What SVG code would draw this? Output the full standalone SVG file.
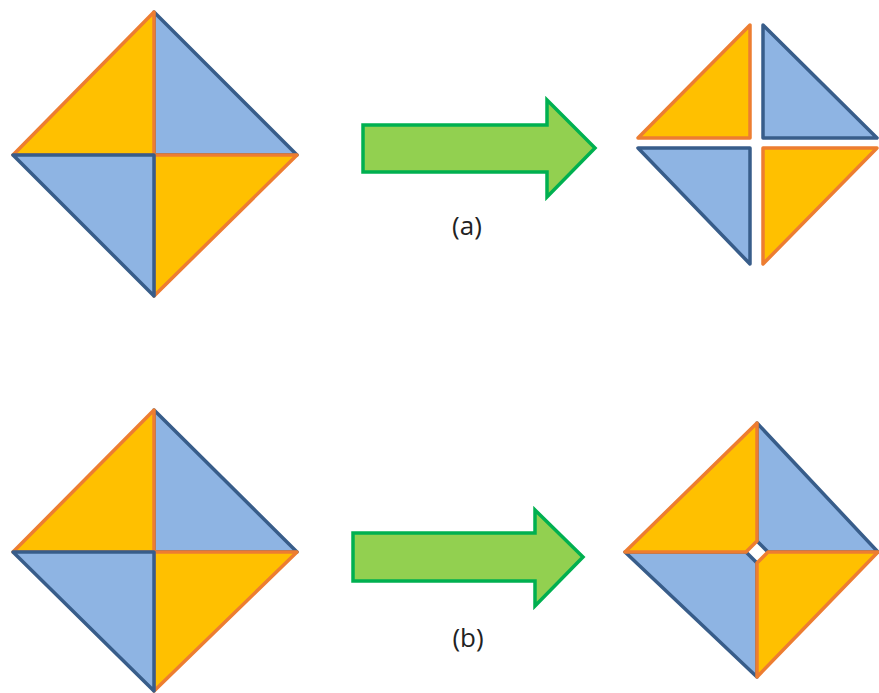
<svg xmlns="http://www.w3.org/2000/svg" width="879" height="693" viewBox="0 0 879 693">
<style>
.o{fill:#FFC000;stroke:#ED7D31;stroke-width:3.5;stroke-linejoin:round}
.b{fill:#8EB4E3;stroke:#385D8A;stroke-width:3.5;stroke-linejoin:round}
.arr{fill:#92D050;stroke:#00B050;stroke-width:3.5;stroke-linejoin:miter}
.lbl{font-family:"Open Sans","Noto Sans",sans-serif;font-size:26px;fill:#222;text-anchor:middle}
</style>
<rect width="879" height="693" fill="#fff"/>
<g id="diamond-a-before">
<polygon class="b" points="154,12 297,155 154,155"/>
<polygon class="o" points="154,12 154,155 13,155"/>
<polygon class="o" points="154,155 297,155 154,296"/>
<polygon class="b" points="13,155 154,155 154,296"/>
</g>
<g id="diamond-a-after">
<polygon class="o" points="750,25 750,138 638,138"/>
<polygon class="b" points="763,25 877,138 763,138"/>
<polygon class="b" points="638,148 750,148 750,264"/>
<polygon class="o" points="763,148 877,148 763,264"/>
</g>
<g id="diamond-b-before">
<polygon class="b" points="154,410 297,552 154,552"/>
<polygon class="o" points="154,410 154,552 13,552"/>
<polygon class="o" points="154,552 297,552 154,691"/>
<polygon class="b" points="13,552 154,552 154,691"/>
</g>
<g id="diamond-b-after">
<polygon class="b" points="757,423 878,552 768,552 757,541"/>
<polygon class="b" points="625,552 746,552 757,563 757,677"/>
<polygon class="o" points="757,423 757,541 746,552 625,552"/>
<polygon class="o" points="878,552 768,552 757,563 757,677"/>
</g>
<g id="connectors">
<polygon class="arr" points="363,125 547,125 547,100 595,148 547,197 547,172 363,172"/>
<polygon class="arr" points="353,533 535,533 535,510 583,557 535,606 535,581 353,581"/>
</g>
<g id="label-a"><text class="lbl" x="467" y="235">(a)</text></g>
<g id="label-b"><text class="lbl" x="468" y="647">(b)</text></g>
</svg>
